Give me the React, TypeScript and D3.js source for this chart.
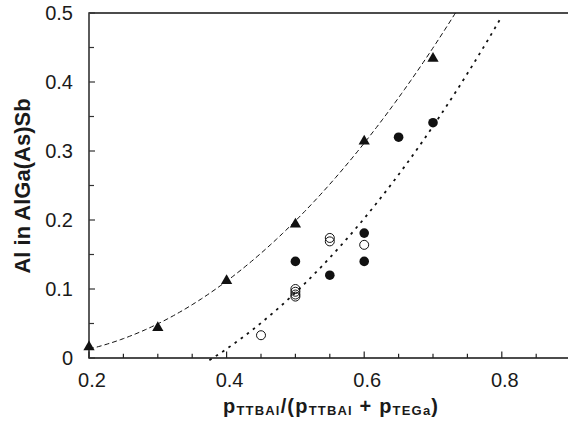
import React from "react";
import * as d3 from "d3";

// ---- data ----
const triangleX = [0.2, 0.3, 0.4, 0.5, 0.6, 0.7];
const triangleY = [0.016, 0.044, 0.112, 0.194, 0.314, 0.434];

const filledX = [0.5, 0.55, 0.6, 0.6, 0.65, 0.7];
const filledY = [0.14, 0.12, 0.181, 0.14, 0.32, 0.341];

const openX = [0.45, 0.5, 0.5, 0.5, 0.5, 0.55, 0.55, 0.6];
const openY = [0.033, 0.089, 0.092, 0.096, 0.1, 0.169, 0.174, 0.164];

// quadratic trend lines y = a + b x + c x^2
const dashedCoef = [0.0162, -0.27, 1.27];
const dashedRange = [0.2, 0.745];
const dottedCoef = [-0.0535, -0.3523, 1.2977];
const dottedRange = [0.375, 0.8];

const xMajorTicks = [0.2, 0.4, 0.6, 0.8];
const xMinorTicks = [0.25, 0.3, 0.35, 0.45, 0.5, 0.55, 0.65, 0.7, 0.75, 0.85];
const yMajorTicks = [0, 0.1, 0.2, 0.3, 0.4, 0.5];
const yMinorTicks = [0.05, 0.15, 0.25, 0.35, 0.45];
const xTickLabels = ["0.2", "0.4", "0.6", "0.8"];
const yTickLabels = ["0", "0.1", "0.2", "0.3", "0.4", "0.5"];

const W = 568;
const H = 428;
const left = 89;
const top = 13;
const bottom = 358;

export default function App() {
  const x = d3.scaleLinear().domain([0.2, 0.9]).range([left, left + 688 * 0.7]);
  const y = d3.scaleLinear().domain([0, 0.5]).range([bottom, top]);

  const quad = (c: number[]) => (v: number) => c[0] + c[1] * v + c[2] * v * v;
  const curve = (c: number[], r: number[]) => {
    const f = quad(c);
    const n = 120;
    const pts: [number, number][] = d3
      .range(n + 1)
      .map((i) => r[0] + ((r[1] - r[0]) * i) / n)
      .map((v) => [v, f(v)]);
    return d3
      .line<[number, number]>()
      .x((d) => x(d[0]))
      .y((d) => y(d[1]))(pts) as string;
  };

  const tri = d3.symbol(d3.symbolTriangle, 55)() as string;
  const ink = "#111";
  const font = "'Liberation Sans', Arial, Helvetica, sans-serif";

  return (
    <svg
      width={W}
      height={H}
      style={{ position: "absolute", left: 0, top: 0, background: "#fff" }}
      fontFamily={font}
    >
      <defs>
        <clipPath id="plot">
          <rect x={left} y={top} width={W - left} height={370 - top} />
        </clipPath>
      </defs>

      {/* frame */}
      <line x1={left} x2={W} y1={top} y2={top} stroke="#111" strokeWidth={1.4} />
      <line x1={left} x2={W} y1={bottom} y2={bottom} stroke="#111" strokeWidth={1.6} />
      <line x1={left} x2={left} y1={top - 0.7} y2={bottom + 0.8} stroke="#4a4a4a" strokeWidth={1.8} />

      {/* x ticks */}
      {xMajorTicks.map((t) => (
        <line key={"xM" + t} x1={x(t)} x2={x(t)} y1={bottom} y2={bottom - 6.5} stroke="#222" strokeWidth={1.2} />
      ))}
      {xMinorTicks.map((t) => (
        <line key={"xm" + t} x1={x(t)} x2={x(t)} y1={bottom} y2={bottom - 4.3} stroke="#222" strokeWidth={1.2} />
      ))}
      {/* y ticks */}
      {yMajorTicks.map((t) => (
        <line key={"yM" + t} x1={left} x2={left + 6} y1={y(t)} y2={y(t)} stroke="#333" strokeWidth={1.2} />
      ))}
      {yMinorTicks.map((t) => (
        <line key={"ym" + t} x1={left} x2={left + 5} y1={y(t)} y2={y(t)} stroke="#333" strokeWidth={1.2} />
      ))}

      {/* tick labels */}
      {xMajorTicks.map((t, i) => (
        <text key={"xl" + t} x={x(t) + 3} y={387} textAnchor="middle" fontSize={20} fill="#1a1a1a">
          {xTickLabels[i]}
        </text>
      ))}
      {yMajorTicks.map((t, i) => (
        <text key={"yl" + t} x={73} y={y(t) + 7} textAnchor="end" fontSize={20} fill="#1a1a1a">
          {yTickLabels[i]}
        </text>
      ))}

      {/* trend lines */}
      <g clipPath="url(#plot)" fill="none" stroke={ink}>
        <path d={curve(dashedCoef, dashedRange)} strokeWidth={1} strokeDasharray="5 3" />
        <path d={curve(dottedCoef, dottedRange)} strokeWidth={1.8} strokeDasharray="2.6 5" />
      </g>

      {/* markers */}
      {openX.map((v, i) => (
        <circle key={"o" + i} cx={x(v)} cy={y(openY[i])} r={4.5} fill="none" stroke={ink} strokeWidth={1} />
      ))}
      {filledX.map((v, i) => (
        <circle key={"f" + i} cx={x(v)} cy={y(filledY[i])} r={4.8} fill={ink} />
      ))}
      {triangleX.map((v, i) => (
        <path key={"t" + i} d={tri} transform={`translate(${x(v)},${y(triangleY[i])})`} fill={ink} />
      ))}

      {/* axis titles */}
      <text
        transform="translate(30,186) rotate(-90)"
        textAnchor="middle"
        fontSize={22}
        fontWeight="bold"
        fill="#1a1a1a"
      >
        Al in AlGa(As)Sb
      </text>
      <text x={223} y={413} fontSize={20} fontWeight="bold" fill="#1a1a1a" textLength={215} lengthAdjust="spacing">
        <tspan>p</tspan>
        <tspan fontSize={13} dy={2}>TTBAl</tspan>
        <tspan dy={-2}>/(p</tspan>
        <tspan fontSize={13} dy={2}>TTBAl</tspan>
        <tspan dy={-2}> + p</tspan>
        <tspan fontSize={13} dy={2}>TEGa</tspan>
        <tspan dy={-2}>)</tspan>
      </text>
    </svg>
  );
}
